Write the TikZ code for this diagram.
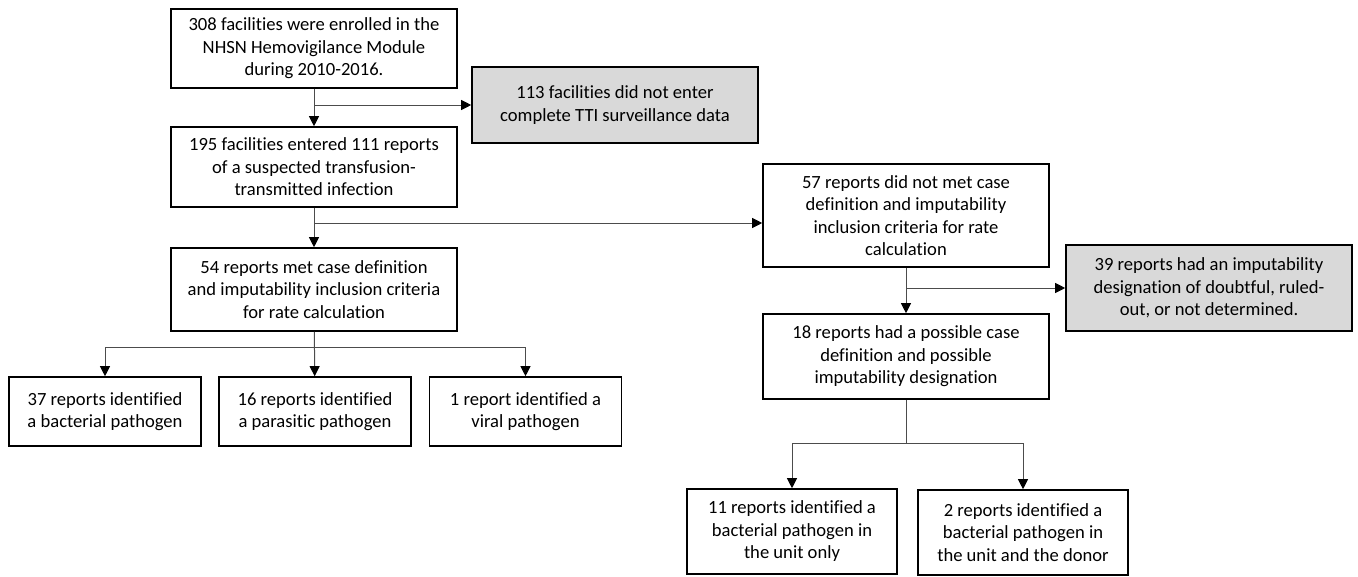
\documentclass[tikz,border=0pt]{standalone}
\usepackage{fontspec}
\setmainfont{Carlito}[Ligatures={NoCommon,NoContextual}]
\usetikzlibrary{arrows.meta}
\definecolor{boxgrey}{RGB}{217,217,217}
\tikzset{
  box/.style={draw=black, line width=1.6pt, align=center, inner sep=2pt, minimum width=286pt},
  greybox/.style={box, fill=boxgrey},
  smallbox/.style={box, minimum width=192pt, minimum height=69pt},
  link/.style={draw=black!70, line width=1pt}
}
\begin{document}
\begin{tikzpicture}[x=1pt,y=-1pt,>={Triangle[length=10pt,width=10pt,color=black]},
  font=\fontsize{18.6}{22.5}\selectfont]
\useasboundingbox (0,0) rectangle (1358,576);

\node[box,minimum height=79pt] (enrol) at (314,48.5) {308 facilities were enrolled in the\\NHSN Hemovigilance Module\\during 2010-2016.};
\node[greybox,minimum height=76pt] (noentry) at (615,105) {113 facilities did not enter\\complete TTI surveillance data};
\node[box,minimum height=80pt] (suspect) at (314,167) {195 facilities entered 111 reports\\of a suspected transfusion-\\transmitted infection};
\node[box,minimum height=83pt] (met) at (314,289.5) {54 reports met case definition\\and imputability inclusion criteria\\for rate calculation};

\node[box,minimum height=103pt] (notmet) at (906,215.5) {57 reports did not met case\\definition and imputability\\inclusion criteria for rate\\calculation};
\node[greybox,minimum height=86pt] (doubt) at (1209,288) {39 reports had an imputability\\designation of doubtful, ruled-\\out, or not determined.};
\node[box,minimum height=85pt] (possible) at (906,356.5) {18 reports had a possible case\\definition and possible\\imputability designation};

\node[smallbox] (bact) at (105,411.5) {37 reports identified\\a bacterial pathogen};
\node[smallbox] (para) at (315,411.5) {16 reports identified\\a parasitic pathogen};
\node[smallbox] (viral) at (525.5,411.5) {1 report identified a\\viral pathogen};

\node[box,minimum width=210pt,minimum height=85pt] (unit) at (792,531.5) {11 reports identified a\\bacterial pathogen in\\the unit only};
\node[box,minimum width=210pt,minimum height=85pt] (donor) at (1023,532.5) {2 reports identified a\\bacterial pathogen in\\the unit and the donor};

% junctions
\coordinate (j1) at (enrol.south |- noentry.west);
\coordinate (j2) at (314,223);
\coordinate (j3) at (notmet.south |- doubt.west);
\coordinate (fork1) at (314,347);
\coordinate (fork2) at (906,443);

\draw[link,->] (enrol) -- (suspect);
\draw[link,->] (j1) -- (noentry);
\draw[link,->] (suspect) -- (met);
\draw[link,->] (j2) -- (j2 -| notmet.west);
\draw[link,->] (notmet) -- (possible);
\draw[link,->] (j3) -- (doubt);

\draw[link,->] (met) -- (para);
\draw[link,->] (fork1) -| (bact.north);
\draw[link,->] (fork1) -| (viral.north);
\draw[link] (possible) -- (fork2);
\draw[link,->] (fork2) -| (unit.north);
\draw[link,->] (fork2) -| (donor.north);
\end{tikzpicture}
\end{document}
